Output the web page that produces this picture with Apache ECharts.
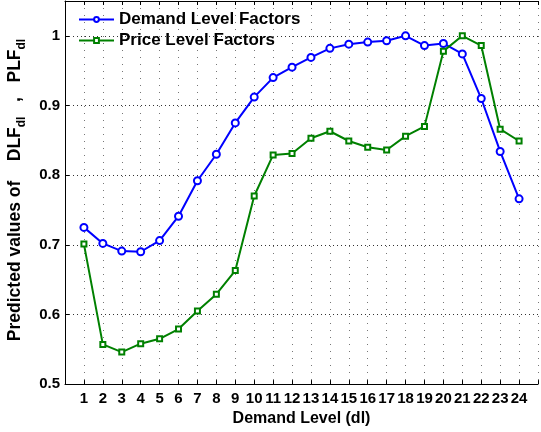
<!DOCTYPE html>
<html><head><meta charset="utf-8">
<script src="https://cdn.jsdelivr.net/npm/echarts@6/dist/echarts.min.js"></script>
<style>html,body{margin:0;padding:0;background:#fff}#c{width:541px;height:432px}</style>
</head><body><div id="c"></div>
<script>
const levels = [1,2,3,4,5,6,7,8,9,10,11,12,13,14,15,16,17,18,19,20,21,22,23,24];
const demandLevelFactors = [0.725,0.702,0.691,0.690,0.706,0.741,0.792,0.830,0.875,0.912,0.940,0.955,0.969,0.982,0.988,0.991,0.993,1.000,0.986,0.989,0.974,0.910,0.834,0.766];
const priceLevelFactors = [0.701,0.557,0.546,0.558,0.565,0.579,0.605,0.629,0.663,0.770,0.829,0.831,0.853,0.863,0.849,0.840,0.836,0.856,0.870,0.978,1.000,0.986,0.866,0.849];
const seriesNames = ['Demand Level Factors','Price Level Factors'];

const FF = "'Liberation Sans', Arial, sans-serif";
const chart = echarts.init(document.getElementById('c'));
const toPairs = vals => levels.map((x,i)=>[x, vals[i]]);

chart.setOption({
  animation:false,
  backgroundColor:'#fff',
  grid:{left:65,right:-2,top:1,bottom:46},
  legend:{
    orient:'vertical', left:73, top:6, padding:5, itemWidth:35, itemHeight:6, itemGap:4,
    textStyle:{fontFamily:FF,fontWeight:'bold',fontSize:17,color:'#000',padding:[0,0,0,0]},
    data:seriesNames
  },
  xAxis:[{
    type:'value', min:0, max:25, interval:1, position:'bottom',
    axisLine:{lineStyle:{color:'#000',width:1}},
    axisTick:{inside:true,length:4,lineStyle:{color:'#000'}},
    axisLabel:{margin:7,fontFamily:FF,fontWeight:'bold',fontSize:15,color:'#000',
      formatter:v=> (v>=1&&v<=24)? String(v):''},
    splitLine:{show:true,lineStyle:{color:'#777',type:[1,6],width:1}},
    name:'Demand Level (dl)', nameLocation:'middle', nameGap:23,
    nameTextStyle:{fontFamily:FF,fontWeight:'bold',fontSize:16,color:'#000',verticalAlign:'top'}
  },{
    type:'value', min:0, max:25, interval:1, position:'top',
    axisLine:{lineStyle:{color:'#000',width:1}},
    axisTick:{inside:true,length:4,lineStyle:{color:'#000'}},
    axisLabel:{show:false}, splitLine:{show:false}
  }],
  yAxis:{
    type:'value', min:0.5, max:1.05, interval:0.1,
    axisLine:{show:true,lineStyle:{color:'#000',width:1}},
    axisTick:{show:true,inside:true,length:4,lineStyle:{color:'#000'}},
    axisLabel:{margin:5,fontFamily:FF,fontWeight:'bold',fontSize:15,color:'#000',
      formatter:v=> v>1.01? '' : String(Math.round(v*10)/10)},
    splitLine:{show:true,lineStyle:{color:'#333',type:[1,3],width:1}}
  },
  graphic:[{
    type:'text', x:15, y:190, rotation:Math.PI/2,
    style:{
      text:'{a|Predicted values of    DLF}{s|dl}{a|   ,   PLF}{s|dl}',
      textAlign:'center', textVerticalAlign:'middle',
      rich:{
        a:{fontFamily:FF,fontWeight:'bold',fontSize:17.5,fill:'#000',lineHeight:26,verticalAlign:'middle'},
        s:{fontFamily:FF,fontWeight:'bold',fontSize:12,fill:'#000',lineHeight:26,verticalAlign:'bottom'}
      }
    }
  }],
  series:[{
    name:seriesNames[0], type:'line', data:toPairs(demandLevelFactors),
    symbol:'emptyCircle', symbolSize:7,
    lineStyle:{color:'#0000ff',width:2},
    itemStyle:{color:'#0000ff',borderColor:'#0000ff',borderWidth:2}
  },{
    name:seriesNames[1], type:'line', data:toPairs(priceLevelFactors),
    symbol:'emptyRect', symbolSize:5,
    lineStyle:{color:'#008000',width:2},
    itemStyle:{color:'#008000',borderColor:'#008000',borderWidth:2}
  }]
});
</script>
</body></html>
